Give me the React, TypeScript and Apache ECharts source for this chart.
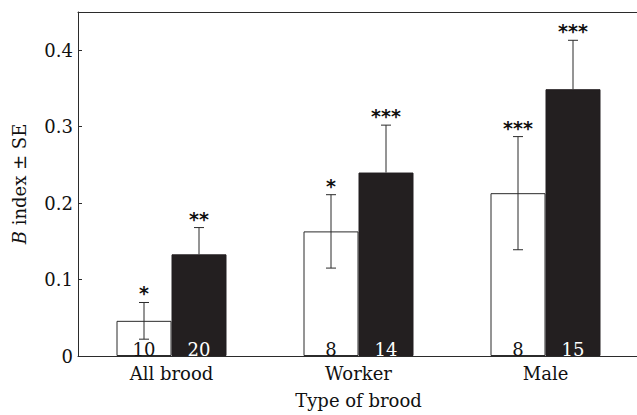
import React, { useEffect, useRef } from "react";
import * as echarts from "echarts";

const categories = ["All brood", "Worker", "Male"];
const openValues = [0.046, 0.163, 0.213];
const openSE = [0.024, 0.048, 0.074];
const openN = [10, 8, 8];
const openSig = ["*", "*", "***"];
const filledValues = [0.133, 0.24, 0.349];
const filledSE = [0.035, 0.062, 0.064];
const filledN = [20, 14, 15];
const filledSig = ["**", "***", "***"];

const BAR_W = 55;
const SERIF = "DejaVu Serif";
const INK = "#2b2b2b";
const FILL = "#231f20";

function errorSeries(values: number[], se: number[], sig: string[], offset: number, upOnly: boolean) {
  return {
    type: "custom",
    z: 5,
    clip: false,
    data: values.map((v, i) => [i, v, se[i]]),
    renderItem: (params: any, api: any) => {
      const i = api.value(0);
      const v = api.value(1);
      const e = api.value(2);
      const c = api.coord([i, v]);
      const x = c[0] + offset;
      const top = api.coord([i, v + e])[1];
      const bot = upOnly ? c[1] : api.coord([i, v - e])[1];
      const style = { stroke: INK, lineWidth: 1 };
      const children: any[] = [
        { type: "line", shape: { x1: x, y1: top, x2: x, y2: bot }, style },
        { type: "line", shape: { x1: x - 5, y1: top, x2: x + 5, y2: top }, style },
        {
          type: "text",
          x: x,
          y: top - 9,
          style: {
            text: sig[params.dataIndex],
            fontFamily: "DejaVu Sans",
            fontWeight: "bold",
            fontSize: 19,
            fill: "#111",
            align: "center",
            verticalAlign: "middle",
          },
        },
      ];
      if (!upOnly) {
        children.push({ type: "line", shape: { x1: x - 5, y1: bot, x2: x + 5, y2: bot }, style });
      }
      return { type: "group", children };
    },
  };
}

export default function App() {
  const ref = useRef<HTMLDivElement>(null);
  useEffect(() => {
    if (!ref.current) return;
    const chart = echarts.init(ref.current, null, { renderer: "svg" });
    chart.setOption({
      animation: false,
      backgroundColor: "#fff",
      grid: {
        left: 78,
        top: 12,
        width: 561,
        height: 344,
        show: false,
        containLabel: false,
        outerBoundsMode: "none",
      },
      xAxis: [
        {
          type: "category",
          data: categories,
          axisLine: { lineStyle: { color: INK, width: 1 } },
          axisTick: { show: false },
          axisLabel: { color: "#111", fontFamily: SERIF, fontSize: 18, margin: 8 },
          name: "Type of brood",
          nameLocation: "middle",
          nameGap: 35,
          nameTextStyle: { color: "#111", fontFamily: SERIF, fontSize: 18 },
        },
        {
          type: "category",
          position: "top",
          data: categories,
          axisLine: { show: true, lineStyle: { color: INK, width: 1 } },
          axisTick: { show: false },
          axisLabel: { show: false },
        },
      ],
      yAxis: {
        type: "value",
        min: 0,
        max: 0.45,
        interval: 0.1,
        splitLine: { show: false },
        axisLine: { show: true, lineStyle: { color: INK, width: 1 } },
        axisTick: { show: true, inside: true, length: 4, lineStyle: { color: INK } },
        axisLabel: {
          color: "#111",
          fontFamily: SERIF,
          fontSize: 18,
          margin: 5,
          showMaxLabel: false,
          formatter: (v: number) => {
            const r = Math.round(v * 10);
            if (Math.abs(v * 10 - r) > 1e-6) return "";
            return r === 0 ? "0" : (r / 10).toFixed(1);
          },
        },
        name: "{i|B} index ± SE",
        nameLocation: "middle",
        nameGap: 50,
        nameTextStyle: {
          color: "#111",
          fontFamily: SERIF,
          fontSize: 18,
          rich: {
            i: { fontFamily: SERIF, fontSize: 18, fontStyle: "italic", color: "#111" },
          },
        },
      },
      series: [
        {
          type: "bar",
          data: openValues,
          barWidth: BAR_W,
          barGap: "0%",
          itemStyle: { color: "#fff", borderColor: INK, borderWidth: 1 },
          label: {
            show: true,
            position: "insideBottom",
            distance: -2,
            formatter: (p: any) => String(openN[p.dataIndex]),
            color: "#111",
            fontFamily: SERIF,
            fontSize: 18,
          },
        },
        {
          type: "bar",
          data: filledValues,
          barWidth: BAR_W,
          barGap: "0%",
          itemStyle: { color: FILL, borderColor: FILL, borderWidth: 1 },
          label: {
            show: true,
            position: "insideBottom",
            distance: -2,
            formatter: (p: any) => String(filledN[p.dataIndex]),
            color: "#fff",
            fontFamily: SERIF,
            fontSize: 18,
          },
        },
        errorSeries(openValues, openSE, openSig, -BAR_W / 2, false),
        errorSeries(filledValues, filledSE, filledSig, BAR_W / 2, true),
      ],
    });
    return () => chart.dispose();
  }, []);
  return (
    <div style={{ position: "fixed", left: 0, top: 0, width: 637, height: 415, overflow: "hidden", background: "#fff" }}>
      <div ref={ref} style={{ width: 637, height: 415 }} />
    </div>
  );
}
